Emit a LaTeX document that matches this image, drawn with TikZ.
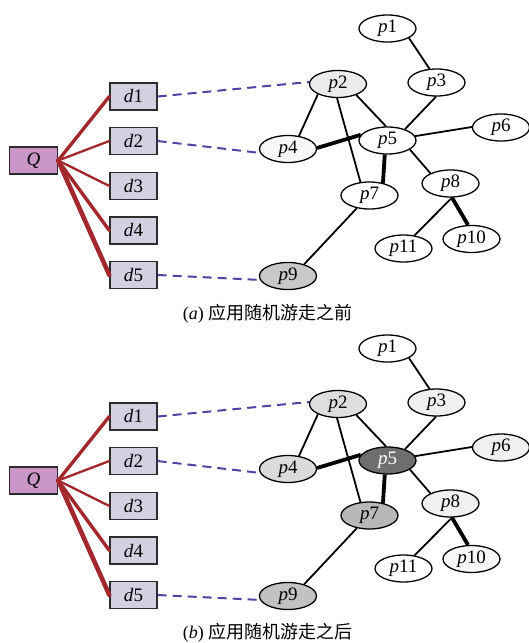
\documentclass[tikz,border=0pt]{standalone}
\usepackage{fontspec}
\setmainfont{Liberation Serif}
\newfontfamily\cjk{Noto Sans CJK SC}
\usetikzlibrary{shapes.geometric}
\definecolor{qfill}{RGB}{202,150,198}
\definecolor{dfill}{RGB}{212,208,226}
\definecolor{redline}{RGB}{163,40,46}
\definecolor{dashblue}{RGB}{82,66,160}
\definecolor{boxline}{RGB}{45,45,45}
\tikzset{
  pn/.style={ellipse,draw=black,line width=1.3pt,minimum width=57pt,minimum height=27pt,inner sep=0pt,font=\fontsize{19}{22}\selectfont},
  dbox/.style={rectangle,draw=boxline,line width=1.3pt,fill=dfill,minimum width=47pt,minimum height=27pt,inner sep=0pt,font=\fontsize{19}{22}\selectfont},
  qbox/.style={rectangle,draw=boxline,line width=1.3pt,fill=qfill,minimum width=48pt,minimum height=27pt,inner sep=0pt,font=\fontsize{19}{22}\selectfont},
  rl/.style={draw=redline,line width=#1},
  gl/.style={draw=black,line width=1.8pt},
  gthick/.style={draw=black,line width=3.8pt},
  dl/.style={draw=dashblue,line width=2pt,dash pattern=on 9pt off 6pt},
  captext/.style={font=\fontsize{18}{22}\selectfont},
}
\newcommand\drawpanel{%
  \node[qbox] (Q) at (33.5,160.5) {\textit{Q}};
  \node[dbox] (d1) at (133.5,96.5) {\textit{d}1};
  \node[dbox] (d2) at (133.5,141) {\textit{d}2};
  \node[dbox] (d3) at (133.5,186) {\textit{d}3};
  \node[dbox] (d4) at (133.5,230.5) {\textit{d}4};
  \node[dbox] (d5) at (133.5,275) {\textit{d}5};
  \node[pn,f1] (p1) at (387.5,28.5) {\textit{p}1};
  \node[pn,f2] (p2) at (338,84) {\textit{p}2};
  \node[pn,f3] (p3) at (436.5,82.5) {\textit{p}3};
  \node[pn,f4] (p4) at (288,149) {\textit{p}4};
  \node[pn,f5] (p5) at (387.5,140.5) {\textit{p}5};
  \node[pn,f6] (p6) at (501,127.5) {\textit{p}6};
  \node[pn,f7] (p7) at (369.5,195.5) {\textit{p}7};
  \node[pn,f8] (p8) at (450.5,183.5) {\textit{p}8};
  \node[pn,f9] (p9) at (288,276) {\textit{p}9};
  \node[pn,f10] (p10) at (471.5,239) {\textit{p}10};
  \node[pn,f11] (p11) at (403.5,248.5) {\textit{p}11};
  \draw[rl=3.4pt,line cap=round] (Q.east) -- (d1.west);
  \draw[rl=2.3pt,line cap=round] (Q.east) -- (d2.west);
  \draw[rl=2.3pt,line cap=round] (Q.east) -- (d3.west);
  \draw[rl=3.4pt,line cap=round] (Q.east) -- (d4.west);
  \draw[rl=4.6pt,line cap=round] (Q.east) -- (d5.west);
  \draw[dl] (d1.east) -- (p2.176);
  \draw[dl] (d2.east) -- (p4.188);
  \draw[dl] (d5.east) -- (p9.188);
  \draw[gl] (p1.-24) -- (p3.117);
  \draw[gl] (p2.207) -- (p4.50);
  \draw[gl] (p2.266) -- (p7.124);
  \draw[gl] (p2.-31) -- (p5.96);
  \draw[gl] (p3.268) -- (p5.33);
  \draw[gthick] (p4.2) -- (p5.168);
  \draw[gl] (p5.9) -- (p6.179);
  \draw[gthick] (p5.259) -- (p7.43);
  \draw[gl] (p5.-22) -- (p8.153);
  \draw[gl] (p7.225) -- (p9.36);
  \draw[gthick] (p8.276) -- (p10.104);
  \draw[gl] (p8.276) -- (p11.50);
}
\begin{document}
\begin{tikzpicture}[x=1pt,y=-1pt]
\useasboundingbox (0,0) rectangle (529,643);
\begin{scope}[name prefix=a-,
  f1/.style={fill=white},f2/.style={fill=black!8},f3/.style={fill=white},
  f4/.style={fill=black!3},f5/.style={fill=white},f6/.style={fill=white},
  f7/.style={fill=white},f8/.style={fill=white},f9/.style={fill=black!21},
  f10/.style={fill=white},f11/.style={fill=white}]
\drawpanel
\node[captext] (capa) at (267.5,314) {(\textit{a}) {\cjk 应用随机游走之前}};
\end{scope}
\begin{scope}[name prefix=b-,yshift=-320pt,
  f1/.style={fill=white},f2/.style={fill=black!13},f3/.style={fill=black!6},
  f4/.style={fill=black!14},f5/.style={fill=black!57,text=white},f6/.style={fill=black!6},
  f7/.style={fill=black!28},f8/.style={fill=black!6},f9/.style={fill=black!24},
  f10/.style={fill=black!3},f11/.style={fill=white}]
\drawpanel
\node[captext] (capb) at (267.5,313) {(\textit{b}) {\cjk 应用随机游走之后}};
\end{scope}
\end{tikzpicture}
\end{document}
